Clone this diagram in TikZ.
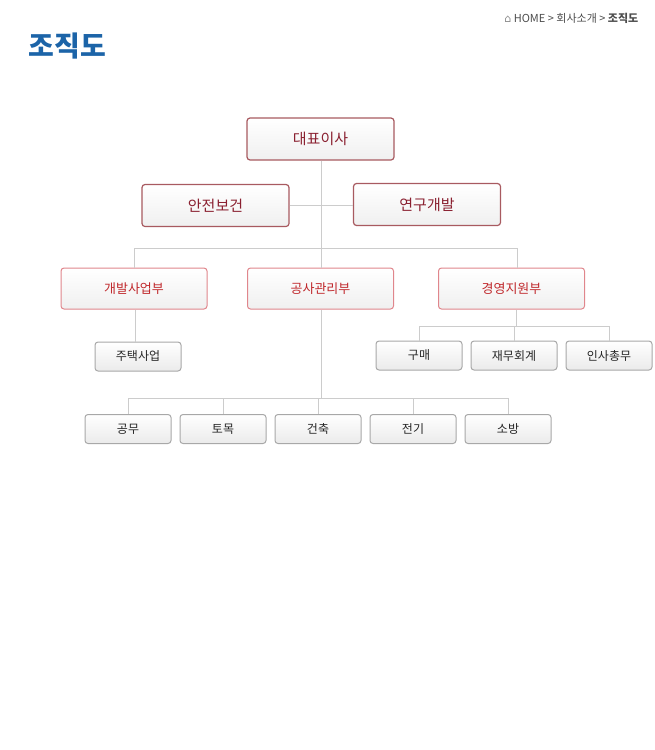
\documentclass[tikz,border=0pt]{standalone}
\usepackage{fontspec}
\setmainfont{Noto Sans CJK KR}
\newfontfamily\symfont{DejaVu Sans}
\usetikzlibrary{positioning}
\definecolor{topline}{HTML}{A85A60}
\definecolor{deptline}{HTML}{E0868C}
\definecolor{teamline}{HTML}{A8A8A8}
\definecolor{toptext}{HTML}{8A2030}
\definecolor{depttext}{HTML}{C0282C}
\definecolor{titleblue}{HTML}{1C64A8}
\begin{document}
\begin{tikzpicture}[x=1pt, y=-1pt, thick,
	topbox/.style={draw=topline, line width=1.2pt, rounded corners=3pt, minimum width=147pt,
		minimum height=42pt, top color=white, bottom color=black!6, text=toptext, font=\fontsize{15}{15}\selectfont},
	deptbox/.style={draw=deptline, line width=1pt, rounded corners=3pt, minimum width=146pt,
		minimum height=41pt, top color=white, bottom color=black!6, text=depttext, font=\fontsize{13}{13}\selectfont},
	teambox/.style={draw=teamline, line width=1pt, rounded corners=3pt, minimum width=86pt,
		minimum height=29pt, top color=white, bottom color=black!8, text=black!85, font=\fontsize{12}{12}\selectfont},
	link/.style={draw=black!20, line width=0.8pt}]
	\useasboundingbox (0,0) rectangle (654,750);
	\node[anchor=west, text=titleblue, font=\fontsize{28}{28}\selectfont\bfseries] (title) at (25,46) {조직도};
	\node[anchor=east, text=black!70, font=\fontsize{11}{11}\selectfont] (path) at (642,18) {{\symfont\color{black!45}⌂}\ HOME > 회사소개 > \textbf{조직도}};

	\node[topbox]              (ceo) at (320.5,139)   {대표이사};
	\node[topbox]              (safe) at (215.5,205.5) {안전보건};
	\node[topbox]              (rnd) at (427,204.5)   {연구개발};

	\node[deptbox]             (dev) at (134,288.5)   {개발사업부};
	\node[deptbox]             (con) at (320.5,288.5) {공사관리부};
	\node[deptbox]             (mgt) at (511.5,288.5) {경영지원부};

	\node[teambox]             (house) at (138,356.5) {주택사업};
	\node[teambox]             (buy) at (419,355.5)   {구매};
	\node[teambox]             (acct) [right=8pt of buy] {재무회계};
	\node[teambox]             (hr) [right=8pt of acct]  {인사총무};

	\node[teambox]             (gm) at (128,429)      {공무};
	\node[teambox]             (civ) [right=8pt of gm]  {토목};
	\node[teambox]             (arch) [right=8pt of civ] {건축};
	\node[teambox]             (elec) [right=8pt of arch] {전기};
	\node[teambox]             (fire) [right=8pt of elec] {소방};

	%연결선
	\coordinate (hub) at (321,248);
	\path[link] (ceo.south -| hub) -- (con.north -| hub)
		(safe.east |- 0,205) -- (rnd.west |- 0,205)
		(134,248) -- (517,248)
		(134,248) -- (dev.north -| 134,0)
		(517,248) -- (mgt.north -| 517,0);
	\path[link] (dev.south -| 135,0) -- (house.north -| 135,0);
	\path[link] (mgt.south -| 516,0) -- (516,326)
		(buy.north |- 0,326) -- (hr.north |- 0,326)
		(buy.north |- 0,326) -- (buy.north)
		(acct.north |- 0,326) -- (acct.north)
		(hr.north |- 0,326) -- (hr.north);
	\path[link] (con.south -| 321,0) -- (321,398)
		(gm.north |- 0,398) -- (fire.north |- 0,398)
		\foreach \n in {gm,civ,arch,elec,fire} {(\n.north |- 0,398) -- (\n.north)};
\end{tikzpicture}
\end{document}
